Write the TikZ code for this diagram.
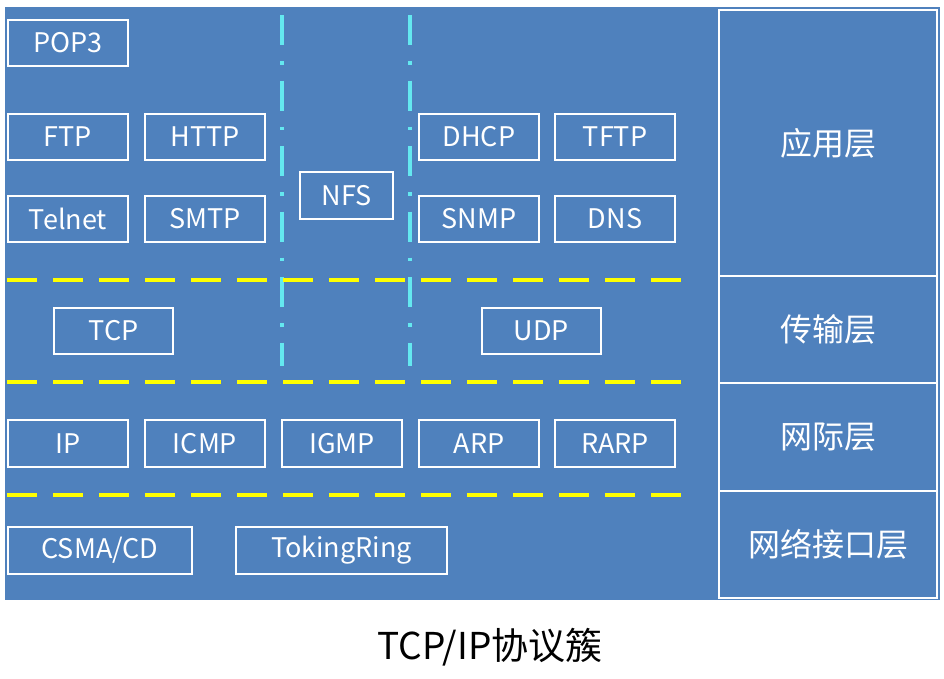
\documentclass[tikz,border=0pt]{standalone}
\usepackage{fontspec}
\setmainfont{Noto Sans CJK SC}
\usepackage{xcolor}
\definecolor{bgblue}{RGB}{79,129,189}
\definecolor{sepcyan}{RGB}{100,232,240}
\definecolor{sepyellow}{RGB}{255,255,0}
\usetikzlibrary{calc}

\tikzset{
    proto/.style={draw=white,line width=2pt,text=white,minimum width=120pt,minimum height=46pt,inner sep=0pt,font=\fontsize{27}{30}\selectfont},
    layer/.style={draw=white,line width=2pt,text=white,minimum width=218pt,inner sep=0pt,font=\fontsize{32}{35}\selectfont},
    hsep/.style={sepyellow,line width=4pt,dash pattern=on 30pt off 16pt},
    vsep/.style={sepcyan,line width=3.2pt,dash pattern=on 30pt off 16pt on 3.5pt off 16pt}
}

\begin{document}
\begin{tikzpicture}[x=1pt,y=-1pt]
        \useasboundingbox (0,0) rectangle (944,678);
        \fill[bgblue](5, 7) rectangle (940, 600);
        % separators
        \draw[vsep](282, 15) -- (282, 366);
        \draw[vsep](410, 15) -- (410, 366);
        \draw[hsep](7, 280) -- (688, 280);
        \draw[hsep](7, 382) -- (688, 382);
        \draw[hsep](7, 495) -- (688, 495);
        % application
        \node[proto] (pop3) at (68, 43) {POP3};
        \node[proto] (ftp) at (68, 137) {FTP};
        \node[proto] (http) at (205, 137) {HTTP};
        \node[proto] (telnet) at (68, 219) {Telnet};
        \node[proto] (smtp) at (205, 219) {SMTP};
        \node[proto,minimum width=93pt,minimum height=47pt] (nfs) at (346.5, 195.5) {NFS};
        \node[proto] (dhcp) at (479, 137) {DHCP};
        \node[proto] (tftp) at (615, 137) {TFTP};
        \node[proto] (snmp) at (479, 219) {SNMP};
        \node[proto] (dns) at (615, 219) {DNS};
        % transport
        \node[proto,minimum width=119pt] (tcp) at (113.5, 331) {TCP};
        \node[proto,minimum width=119pt] (udp) at (541.5, 331) {UDP};
        % internet
        \node[proto,minimum height=47pt] (ip) at (68, 443.5) {IP};
        \node[proto,minimum height=47pt] (icmp) at (205, 443.5) {ICMP};
        \node[proto,minimum height=47pt] (igmp) at (342, 443.5) {IGMP};
        \node[proto,minimum height=47pt] (arp) at (479, 443.5) {ARP};
        \node[proto,minimum height=47pt] (rarp) at (615, 443.5) {RARP};
        % network interface
        \node[proto,minimum width=184pt,minimum height=47pt] (csma) at (100, 550.5) {CSMA/CD};
        \node[proto,minimum width=211pt,minimum height=47pt] (token) at (341.5, 550.5) {TokingRing};
        % layers
        \node[layer,minimum height=266pt] (app) at (828, 143) {应用层};
        \node[layer,minimum height=107pt] (trans) at (828, 329.5) {传输层};
        \node[layer,minimum height=108pt] (inet) at (828, 437) {网际层};
        \node[layer,minimum height=107pt] (link) at (828, 544.5) {网络接口层};
        \node[font=\fontsize{37}{40}\selectfont] (title) at (490, 647) {TCP/IP协议簇};
    \end{tikzpicture}
\end{document}
